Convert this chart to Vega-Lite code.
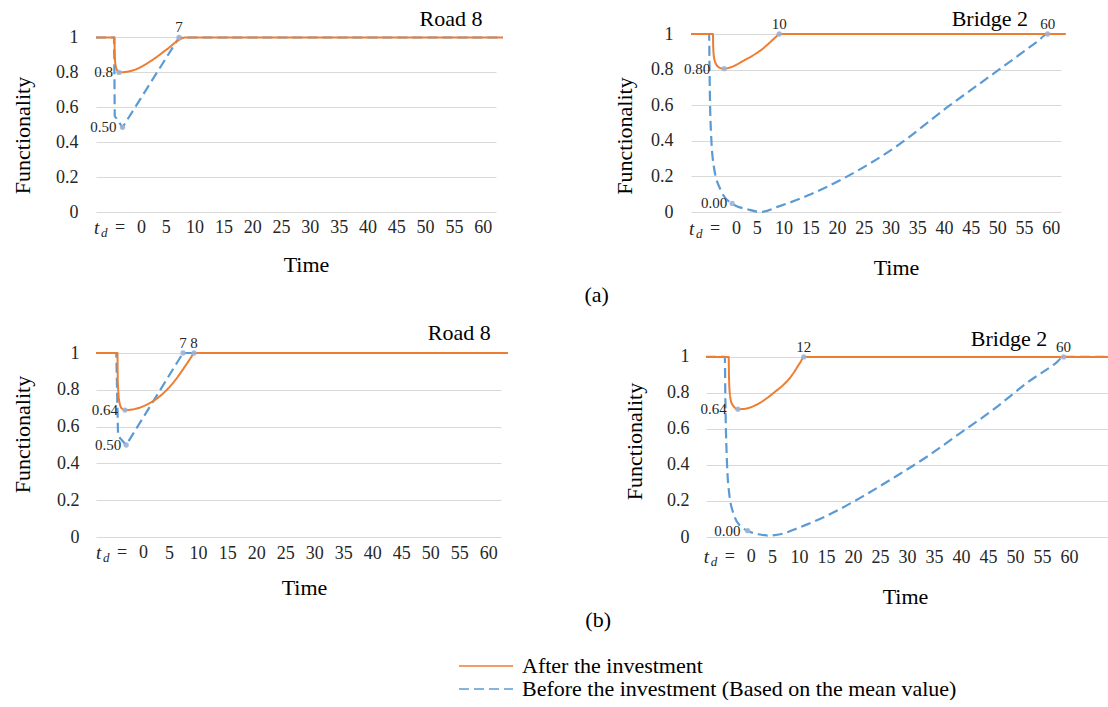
{
"$schema": "https://vega.github.io/schema/vega-lite/v6.json",
"padding": {"left": 10, "top": 7, "right": 0, "bottom": 0},
"background": "white",
"spacing": 16,
"config": {
  "font": "Liberation Serif",
  "view": {"stroke": null},
  "axis": {"labelFont": "Liberation Serif", "labelFontSize": 18, "labelColor": "#262626", "titleFont": "Liberation Serif", "titleFontSize": 22, "titleFontWeight": "normal", "titleColor": "#000000", "domain": false, "ticks": false, "tickSize": 0, "gridColor": "#d9d9d9", "gridWidth": 1, "titleAlign": "center", "titleBaseline": "middle", "labelFlush": false, "labelOverlap": false},
  "axisX": {"grid": false, "labelBaseline": "middle"},
  "axisY": {"grid": true},
  "text": {"font": "Liberation Serif", "color": "#262626"},
  "title": {"font": "Liberation Serif", "fontSize": 22, "fontWeight": "normal", "color": "#000000"}
},
"datasets": {
"lines": [
{"panel":"a_road","series":"After the investment","time":-7.1,"functionality":1},
{"panel":"a_road","series":"After the investment","time":-3.9,"functionality":1},
{"panel":"a_road","series":"After the investment","time":-3.85,"functionality":0.9},
{"panel":"a_road","series":"After the investment","time":-3.7,"functionality":0.84},
{"panel":"a_road","series":"After the investment","time":-3.4,"functionality":0.81},
{"panel":"a_road","series":"After the investment","time":-3.1,"functionality":0.8},
{"panel":"a_road","series":"After the investment","time":-1.5,"functionality":0.805},
{"panel":"a_road","series":"After the investment","time":0,"functionality":0.82},
{"panel":"a_road","series":"After the investment","time":2.4,"functionality":0.865},
{"panel":"a_road","series":"After the investment","time":5.3,"functionality":0.935},
{"panel":"a_road","series":"After the investment","time":7.5,"functionality":0.99},
{"panel":"a_road","series":"After the investment","time":8.3,"functionality":1},
{"panel":"a_road","series":"After the investment","time":63.5,"functionality":1},
{"panel":"a_road","series":"Before the investment (Based on the mean value)","time":-7.1,"functionality":1},
{"panel":"a_road","series":"Before the investment (Based on the mean value)","time":-3.95,"functionality":1},
{"panel":"a_road","series":"Before the investment (Based on the mean value)","time":-3.85,"functionality":0.55},
{"panel":"a_road","series":"Before the investment (Based on the mean value)","time":-2.5,"functionality":0.485},
{"panel":"a_road","series":"Before the investment (Based on the mean value)","time":7.3,"functionality":1},
{"panel":"a_road","series":"Before the investment (Based on the mean value)","time":63.5,"functionality":1},
{"panel":"a_bridge","series":"After the investment","time":-7.3,"functionality":1},
{"panel":"a_bridge","series":"After the investment","time":-3.2,"functionality":1},
{"panel":"a_bridge","series":"After the investment","time":-3.15,"functionality":0.93},
{"panel":"a_bridge","series":"After the investment","time":-3.0,"functionality":0.87},
{"panel":"a_bridge","series":"After the investment","time":-2.6,"functionality":0.83},
{"panel":"a_bridge","series":"After the investment","time":-1.9,"functionality":0.81},
{"panel":"a_bridge","series":"After the investment","time":-1.1,"functionality":0.805},
{"panel":"a_bridge","series":"After the investment","time":0.3,"functionality":0.815},
{"panel":"a_bridge","series":"After the investment","time":2.6,"functionality":0.851},
{"panel":"a_bridge","series":"After the investment","time":5.8,"functionality":0.91},
{"panel":"a_bridge","series":"After the investment","time":8.6,"functionality":0.984},
{"panel":"a_bridge","series":"After the investment","time":9.2,"functionality":1},
{"panel":"a_bridge","series":"After the investment","time":62.8,"functionality":1},
{"panel":"a_bridge","series":"Before the investment (Based on the mean value)","time":-7.3,"functionality":1},
{"panel":"a_bridge","series":"Before the investment (Based on the mean value)","time":-3.9,"functionality":1},
{"panel":"a_bridge","series":"Before the investment (Based on the mean value)","time":-3.85,"functionality":0.85},
{"panel":"a_bridge","series":"Before the investment (Based on the mean value)","time":-3.75,"functionality":0.63},
{"panel":"a_bridge","series":"Before the investment (Based on the mean value)","time":-3.55,"functionality":0.44},
{"panel":"a_bridge","series":"Before the investment (Based on the mean value)","time":-3.0,"functionality":0.25},
{"panel":"a_bridge","series":"Before the investment (Based on the mean value)","time":-1.7,"functionality":0.12},
{"panel":"a_bridge","series":"Before the investment (Based on the mean value)","time":0.2,"functionality":0.05},
{"panel":"a_bridge","series":"Before the investment (Based on the mean value)","time":3.4,"functionality":0.014},
{"panel":"a_bridge","series":"Before the investment (Based on the mean value)","time":5.8,"functionality":0.0},
{"panel":"a_bridge","series":"Before the investment (Based on the mean value)","time":9,"functionality":0.03},
{"panel":"a_bridge","series":"Before the investment (Based on the mean value)","time":15.1,"functionality":0.1},
{"panel":"a_bridge","series":"Before the investment (Based on the mean value)","time":21.3,"functionality":0.19},
{"panel":"a_bridge","series":"Before the investment (Based on the mean value)","time":30.7,"functionality":0.36},
{"panel":"a_bridge","series":"Before the investment (Based on the mean value)","time":40.7,"functionality":0.59},
{"panel":"a_bridge","series":"Before the investment (Based on the mean value)","time":49.4,"functionality":0.78},
{"panel":"a_bridge","series":"Before the investment (Based on the mean value)","time":57.5,"functionality":0.958},
{"panel":"a_bridge","series":"Before the investment (Based on the mean value)","time":59.4,"functionality":1},
{"panel":"a_bridge","series":"Before the investment (Based on the mean value)","time":62.8,"functionality":1},
{"panel":"b_road","series":"After the investment","time":-7.6,"functionality":1},
{"panel":"b_road","series":"After the investment","time":-3.9,"functionality":1},
{"panel":"b_road","series":"After the investment","time":-3.85,"functionality":0.85},
{"panel":"b_road","series":"After the investment","time":-3.6,"functionality":0.74},
{"panel":"b_road","series":"After the investment","time":-3.2,"functionality":0.7},
{"panel":"b_road","series":"After the investment","time":-2.6,"functionality":0.69},
{"panel":"b_road","series":"After the investment","time":-1,"functionality":0.695},
{"panel":"b_road","series":"After the investment","time":0.5,"functionality":0.71},
{"panel":"b_road","series":"After the investment","time":3.6,"functionality":0.77},
{"panel":"b_road","series":"After the investment","time":6,"functionality":0.85},
{"panel":"b_road","series":"After the investment","time":7.8,"functionality":0.93},
{"panel":"b_road","series":"After the investment","time":8.8,"functionality":0.977},
{"panel":"b_road","series":"After the investment","time":9.3,"functionality":1},
{"panel":"b_road","series":"After the investment","time":63.4,"functionality":1},
{"panel":"b_road","series":"Before the investment (Based on the mean value)","time":-7.6,"functionality":1},
{"panel":"b_road","series":"Before the investment (Based on the mean value)","time":-4.1,"functionality":1},
{"panel":"b_road","series":"Before the investment (Based on the mean value)","time":-3.8,"functionality":0.55},
{"panel":"b_road","series":"Before the investment (Based on the mean value)","time":-2.4,"functionality":0.5},
{"panel":"b_road","series":"Before the investment (Based on the mean value)","time":7.4,"functionality":1},
{"panel":"b_road","series":"Before the investment (Based on the mean value)","time":63.4,"functionality":1},
{"panel":"b_bridge","series":"After the investment","time":-7.2,"functionality":1},
{"panel":"b_bridge","series":"After the investment","time":-3,"functionality":1},
{"panel":"b_bridge","series":"After the investment","time":-2.95,"functionality":0.9},
{"panel":"b_bridge","series":"After the investment","time":-2.8,"functionality":0.8},
{"panel":"b_bridge","series":"After the investment","time":-2.4,"functionality":0.74},
{"panel":"b_bridge","series":"After the investment","time":-1.3,"functionality":0.71},
{"panel":"b_bridge","series":"After the investment","time":0,"functionality":0.712},
{"panel":"b_bridge","series":"After the investment","time":1.6,"functionality":0.727},
{"panel":"b_bridge","series":"After the investment","time":5.3,"functionality":0.8},
{"panel":"b_bridge","series":"After the investment","time":8.5,"functionality":0.89},
{"panel":"b_bridge","series":"After the investment","time":10.3,"functionality":0.972},
{"panel":"b_bridge","series":"After the investment","time":10.9,"functionality":1},
{"panel":"b_bridge","series":"After the investment","time":67.4,"functionality":1},
{"panel":"b_bridge","series":"Before the investment (Based on the mean value)","time":-7.2,"functionality":1},
{"panel":"b_bridge","series":"Before the investment (Based on the mean value)","time":-3.7,"functionality":1},
{"panel":"b_bridge","series":"Before the investment (Based on the mean value)","time":-3.65,"functionality":0.85},
{"panel":"b_bridge","series":"Before the investment (Based on the mean value)","time":-3.55,"functionality":0.65},
{"panel":"b_bridge","series":"Before the investment (Based on the mean value)","time":-3.35,"functionality":0.44},
{"panel":"b_bridge","series":"Before the investment (Based on the mean value)","time":-2.9,"functionality":0.24},
{"panel":"b_bridge","series":"Before the investment (Based on the mean value)","time":-2.0,"functionality":0.12},
{"panel":"b_bridge","series":"Before the investment (Based on the mean value)","time":-0.8,"functionality":0.06},
{"panel":"b_bridge","series":"Before the investment (Based on the mean value)","time":0.5,"functionality":0.035},
{"panel":"b_bridge","series":"Before the investment (Based on the mean value)","time":2.5,"functionality":0.015},
{"panel":"b_bridge","series":"Before the investment (Based on the mean value)","time":4.5,"functionality":0.008},
{"panel":"b_bridge","series":"Before the investment (Based on the mean value)","time":7,"functionality":0.018},
{"panel":"b_bridge","series":"Before the investment (Based on the mean value)","time":9,"functionality":0.04},
{"panel":"b_bridge","series":"Before the investment (Based on the mean value)","time":15.3,"functionality":0.12},
{"panel":"b_bridge","series":"Before the investment (Based on the mean value)","time":21.5,"functionality":0.22},
{"panel":"b_bridge","series":"Before the investment (Based on the mean value)","time":27.6,"functionality":0.33},
{"panel":"b_bridge","series":"Before the investment (Based on the mean value)","time":33.9,"functionality":0.45},
{"panel":"b_bridge","series":"Before the investment (Based on the mean value)","time":40,"functionality":0.58},
{"panel":"b_bridge","series":"Before the investment (Based on the mean value)","time":46.1,"functionality":0.71},
{"panel":"b_bridge","series":"Before the investment (Based on the mean value)","time":52.4,"functionality":0.86},
{"panel":"b_bridge","series":"Before the investment (Based on the mean value)","time":57.5,"functionality":0.965},
{"panel":"b_bridge","series":"Before the investment (Based on the mean value)","time":59,"functionality":1},
{"panel":"b_bridge","series":"Before the investment (Based on the mean value)","time":67.4,"functionality":1}
],
"points": [
{"panel":"a_road","series":"After the investment","kind":"min","time":-3.1,"functionality":0.8,"label":"0.8"},
{"panel":"a_road","series":"Before the investment (Based on the mean value)","kind":"min","time":-2.5,"functionality":0.485,"label":"0.50"},
{"panel":"a_road","series":"Before the investment (Based on the mean value)","kind":"top","time":7.3,"functionality":1,"label":"7"},
{"panel":"a_bridge","series":"After the investment","kind":"min","time":-1.1,"functionality":0.805,"label":"0.80"},
{"panel":"a_bridge","series":"After the investment","kind":"top","time":9.2,"functionality":1,"label":"10"},
{"panel":"a_bridge","series":"Before the investment (Based on the mean value)","kind":"min","time":0.4,"functionality":0.048,"label":"0.00"},
{"panel":"a_bridge","series":"Before the investment (Based on the mean value)","kind":"top","time":59.4,"functionality":1,"label":"60"},
{"panel":"b_road","series":"After the investment","kind":"min","time":-2.6,"functionality":0.69,"label":"0.64"},
{"panel":"b_road","series":"Before the investment (Based on the mean value)","kind":"min","time":-2.4,"functionality":0.5,"label":"0.50"},
{"panel":"b_road","series":"Before the investment (Based on the mean value)","kind":"top","time":7.4,"functionality":1,"label":"7"},
{"panel":"b_road","series":"After the investment","kind":"top","time":9.3,"functionality":1,"label":"8"},
{"panel":"b_bridge","series":"After the investment","kind":"min","time":-1.3,"functionality":0.71,"label":"0.64"},
{"panel":"b_bridge","series":"After the investment","kind":"top","time":10.9,"functionality":1,"label":"12"},
{"panel":"b_bridge","series":"Before the investment (Based on the mean value)","kind":"min","time":0.5,"functionality":0.035,"label":"0.00"},
{"panel":"b_bridge","series":"Before the investment (Based on the mean value)","kind":"top","time":59,"functionality":1,"label":"60"}
]
},
"vconcat": [
{
"hconcat": [
{
"width": 400, "height": 178,
"layer": [
{
"encoding": {
  "x": {"field": "time", "type": "quantitative", "scale": {"domain": [-7.1, 62.3], "nice": false, "zero": false}, "axis": {"values": [5,10,15,20,25,30,35,40,45,50,55,60], "tickCount": 40, "labelOverlap": false, "labelFont": "Liberation Serif", "titleFont": "Liberation Serif", "title": "Time", "titleX": 210, "titleY": 52, "labelPadding": 15.5}},
  "y": {"field": "functionality", "type": "quantitative", "scale": {"domain": [0, 1.02], "nice": false, "zero": false}, "axis": {"values": [0,0.2,0.4,0.6,0.8,1], "tickCount": 40, "labelOverlap": false, "labelFont": "Liberation Serif", "titleFont": "Liberation Serif", "format": "~g", "title": "Functionality", "titleX": -74, "titleY": 101, "labelPadding": 18}}
},
"layer": [
{"data": {"name": "lines"}, "transform": [{"filter": "datum.panel === 'a_road' && datum.series !== 'After the investment'"}], "mark": {"type": "line", "strokeWidth": 2.2, "interpolate": "linear", "clip": false},
 "encoding": {"color": {"field": "series", "type": "nominal", "scale": {"domain": ["After the investment", "Before the investment (Based on the mean value)"], "range": ["#ED7D31", "#5B9BD5"]}, "legend": {"title": null, "orient": "none", "legendX": 379, "legendY": 621, "direction": "vertical", "symbolType": "M-5,0H5", "symbolSize": 117, "symbolStrokeWidth": 1.5, "labelFont": "Liberation Serif", "labelFontSize": 22, "labelColor": "#000000", "labelOffset": 25, "rowPadding": 1, "padding": 0, "labelLimit": 700}},
   "strokeDash": {"field": "series", "type": "nominal", "scale": {"domain": ["After the investment", "Before the investment (Based on the mean value)"], "range": [[1,0],[10,5]]}, "legend": {"title": null, "orient": "none", "legendX": 379, "legendY": 621, "direction": "vertical", "symbolType": "M-5,0H5", "symbolSize": 117, "symbolStrokeWidth": 1.5, "labelFont": "Liberation Serif", "labelFontSize": 22, "labelColor": "#000000", "labelOffset": 25, "rowPadding": 1, "padding": 0, "labelLimit": 700}}}},
{"data": {"name": "lines"}, "transform": [{"filter": "datum.panel === 'a_road' && datum.series === 'After the investment'"}], "mark": {"type": "line", "strokeWidth": 2, "interpolate": "monotone", "clip": false},
 "encoding": {"color": {"field": "series", "type": "nominal", "scale": {"domain": ["After the investment", "Before the investment (Based on the mean value)"], "range": ["#ED7D31", "#5B9BD5"]}, "legend": {"title": null, "orient": "none", "legendX": 379, "legendY": 621, "direction": "vertical", "symbolType": "M-5,0H5", "symbolSize": 117, "symbolStrokeWidth": 1.5, "labelFont": "Liberation Serif", "labelFontSize": 22, "labelColor": "#000000", "labelOffset": 25, "rowPadding": 1, "padding": 0, "labelLimit": 700}},
   "strokeDash": {"field": "series", "type": "nominal", "scale": {"domain": ["After the investment", "Before the investment (Based on the mean value)"], "range": [[1,0],[10,5]]}, "legend": {"title": null, "orient": "none", "legendX": 379, "legendY": 621, "direction": "vertical", "symbolType": "M-5,0H5", "symbolSize": 117, "symbolStrokeWidth": 1.5, "labelFont": "Liberation Serif", "labelFontSize": 22, "labelColor": "#000000", "labelOffset": 25, "rowPadding": 1, "padding": 0, "labelLimit": 700}}}},
{"data": {"name": "points"}, "transform": [{"filter": "datum.panel === 'a_road'"}], "mark": {"type": "point", "filled": true, "size": 28, "color": "#9db3d4", "opacity": 0.9}},
{"data": {"name": "points"}, "transform": [{"filter": "datum.panel === 'a_road' && datum.kind === 'min' && datum.series === 'After the investment'"}], "mark": {"type": "text", "align": "right", "baseline": "middle", "dx": -6, "fontSize": 15}, "encoding": {"text": {"field": "label"}}},
{"data": {"name": "points"}, "transform": [{"filter": "datum.panel === 'a_road' && datum.kind === 'min' && datum.series !== 'After the investment'"}], "mark": {"type": "text", "align": "right", "baseline": "middle", "dx": -6, "fontSize": 15}, "encoding": {"text": {"field": "label"}}},
{"data": {"name": "points"}, "transform": [{"filter": "datum.panel === 'a_road' && datum.kind === 'top'"}], "mark": {"type": "text", "align": "center", "baseline": "middle", "dy": -10, "fontSize": 15}, "encoding": {"text": {"field": "label"}}}
]
},
{"data": {"values": [{}]}, "mark": {"type": "text", "text": "Road 8", "fontSize": 22, "color": "#000000", "align": "center", "baseline": "middle", "dy": -18}, "encoding": {"x": {"datum": 54.5, "type": "quantitative"}, "y": {"datum": 1, "type": "quantitative"}}},
{"data": {"values": [{}]}, "mark": {"type": "text", "text": "t", "fontStyle": "italic", "fontSize": 19, "align": "left", "baseline": "middle", "dx": -25, "dy": 15.5}, "encoding": {"x": {"datum": -3.1, "type": "quantitative"}, "y": {"datum": 0, "type": "quantitative"}}},
{"data": {"values": [{}]}, "mark": {"type": "text", "text": "d", "fontStyle": "italic", "fontSize": 13, "align": "left", "baseline": "middle", "dx": -18, "dy": 20.5}, "encoding": {"x": {"datum": -3.1, "type": "quantitative"}, "y": {"datum": 0, "type": "quantitative"}}},
{"data": {"values": [{}]}, "mark": {"type": "text", "text": "=", "fontSize": 18, "align": "left", "baseline": "middle", "dx": -4, "dy": 15.5}, "encoding": {"x": {"datum": -3.1, "type": "quantitative"}, "y": {"datum": 0, "type": "quantitative"}}},
{"data": {"values": [{}]}, "mark": {"type": "text", "text": "0", "fontSize": 18, "align": "left", "baseline": "middle", "dx": 18, "dy": 15.5}, "encoding": {"x": {"datum": -3.1, "type": "quantitative"}, "y": {"datum": 0, "type": "quantitative"}}}
]
},
{
"width": 370, "height": 178,
"layer": [
{
"encoding": {
  "x": {"field": "time", "type": "quantitative", "scale": {"domain": [-7.3, 61.9], "nice": false, "zero": false}, "axis": {"values": [5,10,15,20,25,30,35,40,45,50,55,60], "tickCount": 40, "labelOverlap": false, "labelFont": "Liberation Serif", "titleFont": "Liberation Serif", "title": "Time", "titleX": 205, "titleY": 55.5, "labelPadding": 16.5}},
  "y": {"field": "functionality", "type": "quantitative", "scale": {"domain": [0, 1], "nice": false, "zero": false}, "axis": {"values": [0,0.2,0.4,0.6,0.8,1], "tickCount": 40, "labelOverlap": false, "labelFont": "Liberation Serif", "titleFont": "Liberation Serif", "format": "~g", "title": "Functionality", "titleX": -67, "titleY": 101.5, "labelPadding": 18}}
},
"layer": [
{"data": {"name": "lines"}, "transform": [{"filter": "datum.panel === 'a_bridge' && datum.series !== 'After the investment'"}], "mark": {"type": "line", "strokeWidth": 2.2, "interpolate": "monotone", "clip": false},
 "encoding": {"color": {"field": "series", "type": "nominal", "scale": {"domain": ["After the investment", "Before the investment (Based on the mean value)"], "range": ["#ED7D31", "#5B9BD5"]}, "legend": {"title": null, "orient": "none", "legendX": 379, "legendY": 621, "direction": "vertical", "symbolType": "M-5,0H5", "symbolSize": 117, "symbolStrokeWidth": 1.5, "labelFont": "Liberation Serif", "labelFontSize": 22, "labelColor": "#000000", "labelOffset": 25, "rowPadding": 1, "padding": 0, "labelLimit": 700}},
   "strokeDash": {"field": "series", "type": "nominal", "scale": {"domain": ["After the investment", "Before the investment (Based on the mean value)"], "range": [[1,0],[10,5]]}, "legend": {"title": null, "orient": "none", "legendX": 379, "legendY": 621, "direction": "vertical", "symbolType": "M-5,0H5", "symbolSize": 117, "symbolStrokeWidth": 1.5, "labelFont": "Liberation Serif", "labelFontSize": 22, "labelColor": "#000000", "labelOffset": 25, "rowPadding": 1, "padding": 0, "labelLimit": 700}}}},
{"data": {"name": "lines"}, "transform": [{"filter": "datum.panel === 'a_bridge' && datum.series === 'After the investment'"}], "mark": {"type": "line", "strokeWidth": 2, "interpolate": "monotone", "clip": false},
 "encoding": {"color": {"field": "series", "type": "nominal", "scale": {"domain": ["After the investment", "Before the investment (Based on the mean value)"], "range": ["#ED7D31", "#5B9BD5"]}, "legend": {"title": null, "orient": "none", "legendX": 379, "legendY": 621, "direction": "vertical", "symbolType": "M-5,0H5", "symbolSize": 117, "symbolStrokeWidth": 1.5, "labelFont": "Liberation Serif", "labelFontSize": 22, "labelColor": "#000000", "labelOffset": 25, "rowPadding": 1, "padding": 0, "labelLimit": 700}},
   "strokeDash": {"field": "series", "type": "nominal", "scale": {"domain": ["After the investment", "Before the investment (Based on the mean value)"], "range": [[1,0],[10,5]]}, "legend": {"title": null, "orient": "none", "legendX": 379, "legendY": 621, "direction": "vertical", "symbolType": "M-5,0H5", "symbolSize": 117, "symbolStrokeWidth": 1.5, "labelFont": "Liberation Serif", "labelFontSize": 22, "labelColor": "#000000", "labelOffset": 25, "rowPadding": 1, "padding": 0, "labelLimit": 700}}}},
{"data": {"name": "points"}, "transform": [{"filter": "datum.panel === 'a_bridge'"}], "mark": {"type": "point", "filled": true, "size": 28, "color": "#9db3d4", "opacity": 0.9}},
{"data": {"name": "points"}, "transform": [{"filter": "datum.panel === 'a_bridge' && datum.kind === 'min' && datum.series === 'After the investment'"}], "mark": {"type": "text", "align": "right", "baseline": "middle", "dx": -14, "fontSize": 15}, "encoding": {"text": {"field": "label"}}},
{"data": {"name": "points"}, "transform": [{"filter": "datum.panel === 'a_bridge' && datum.kind === 'min' && datum.series !== 'After the investment'"}], "mark": {"type": "text", "align": "right", "baseline": "middle", "dx": -5, "fontSize": 15}, "encoding": {"text": {"field": "label"}}},
{"data": {"name": "points"}, "transform": [{"filter": "datum.panel === 'a_bridge' && datum.kind === 'top'"}], "mark": {"type": "text", "align": "center", "baseline": "middle", "dy": -10, "fontSize": 15}, "encoding": {"text": {"field": "label"}}}
]
},
{"data": {"values": [{}]}, "mark": {"type": "text", "text": "Bridge 2", "fontSize": 22, "color": "#000000", "align": "center", "baseline": "middle", "dy": -15.5}, "encoding": {"x": {"datum": 48.6, "type": "quantitative"}, "y": {"datum": 1, "type": "quantitative"}}},
{"data": {"values": [{}]}, "mark": {"type": "text", "text": "t", "fontStyle": "italic", "fontSize": 19, "align": "left", "baseline": "middle", "dx": -25, "dy": 16.5}, "encoding": {"x": {"datum": -3, "type": "quantitative"}, "y": {"datum": 0, "type": "quantitative"}}},
{"data": {"values": [{}]}, "mark": {"type": "text", "text": "d", "fontStyle": "italic", "fontSize": 13, "align": "left", "baseline": "middle", "dx": -18, "dy": 21.5}, "encoding": {"x": {"datum": -3, "type": "quantitative"}, "y": {"datum": 0, "type": "quantitative"}}},
{"data": {"values": [{}]}, "mark": {"type": "text", "text": "=", "fontSize": 18, "align": "left", "baseline": "middle", "dx": -4, "dy": 16.5}, "encoding": {"x": {"datum": -3, "type": "quantitative"}, "y": {"datum": 0, "type": "quantitative"}}},
{"data": {"values": [{}]}, "mark": {"type": "text", "text": "0", "fontSize": 18, "align": "left", "baseline": "middle", "dx": 18, "dy": 16.5}, "encoding": {"x": {"datum": -3, "type": "quantitative"}, "y": {"datum": 0, "type": "quantitative"}}}
]
}
],
"spacing": 195,
"bounds": "flush",
"title": {"text": "(a)", "orient": "bottom", "anchor": "middle", "frame": "bounds", "offset": 6, "dx": 56}
},
{
"hconcat": [
{
"width": 405, "height": 184,
"layer": [
{
"encoding": {
  "x": {"field": "time", "type": "quantitative", "scale": {"domain": [-7.6, 62.2], "nice": false, "zero": false}, "axis": {"values": [5,10,15,20,25,30,35,40,45,50,55,60], "tickCount": 40, "labelOverlap": false, "labelFont": "Liberation Serif", "titleFont": "Liberation Serif", "title": "Time", "titleX": 208, "titleY": 50, "labelPadding": 16}},
  "y": {"field": "functionality", "type": "quantitative", "scale": {"domain": [0, 1], "nice": false, "zero": false}, "axis": {"values": [0,0.2,0.4,0.6,0.8,1], "tickCount": 40, "labelOverlap": false, "labelFont": "Liberation Serif", "titleFont": "Liberation Serif", "format": "~g", "title": "Functionality", "titleX": -74, "titleY": 81, "labelPadding": 17}}
},
"layer": [
{"data": {"name": "lines"}, "transform": [{"filter": "datum.panel === 'b_road' && datum.series !== 'After the investment'"}], "mark": {"type": "line", "strokeWidth": 2.2, "interpolate": "linear", "clip": false},
 "encoding": {"color": {"field": "series", "type": "nominal", "scale": {"domain": ["After the investment", "Before the investment (Based on the mean value)"], "range": ["#ED7D31", "#5B9BD5"]}, "legend": {"title": null, "orient": "none", "legendX": 379, "legendY": 621, "direction": "vertical", "symbolType": "M-5,0H5", "symbolSize": 117, "symbolStrokeWidth": 1.5, "labelFont": "Liberation Serif", "labelFontSize": 22, "labelColor": "#000000", "labelOffset": 25, "rowPadding": 1, "padding": 0, "labelLimit": 700}},
   "strokeDash": {"field": "series", "type": "nominal", "scale": {"domain": ["After the investment", "Before the investment (Based on the mean value)"], "range": [[1,0],[10,5]]}, "legend": {"title": null, "orient": "none", "legendX": 379, "legendY": 621, "direction": "vertical", "symbolType": "M-5,0H5", "symbolSize": 117, "symbolStrokeWidth": 1.5, "labelFont": "Liberation Serif", "labelFontSize": 22, "labelColor": "#000000", "labelOffset": 25, "rowPadding": 1, "padding": 0, "labelLimit": 700}}}},
{"data": {"name": "lines"}, "transform": [{"filter": "datum.panel === 'b_road' && datum.series === 'After the investment'"}], "mark": {"type": "line", "strokeWidth": 2, "interpolate": "monotone", "clip": false},
 "encoding": {"color": {"field": "series", "type": "nominal", "scale": {"domain": ["After the investment", "Before the investment (Based on the mean value)"], "range": ["#ED7D31", "#5B9BD5"]}, "legend": {"title": null, "orient": "none", "legendX": 379, "legendY": 621, "direction": "vertical", "symbolType": "M-5,0H5", "symbolSize": 117, "symbolStrokeWidth": 1.5, "labelFont": "Liberation Serif", "labelFontSize": 22, "labelColor": "#000000", "labelOffset": 25, "rowPadding": 1, "padding": 0, "labelLimit": 700}},
   "strokeDash": {"field": "series", "type": "nominal", "scale": {"domain": ["After the investment", "Before the investment (Based on the mean value)"], "range": [[1,0],[10,5]]}, "legend": {"title": null, "orient": "none", "legendX": 379, "legendY": 621, "direction": "vertical", "symbolType": "M-5,0H5", "symbolSize": 117, "symbolStrokeWidth": 1.5, "labelFont": "Liberation Serif", "labelFontSize": 22, "labelColor": "#000000", "labelOffset": 25, "rowPadding": 1, "padding": 0, "labelLimit": 700}}}},
{"data": {"name": "points"}, "transform": [{"filter": "datum.panel === 'b_road'"}], "mark": {"type": "point", "filled": true, "size": 28, "color": "#9db3d4", "opacity": 0.9}},
{"data": {"name": "points"}, "transform": [{"filter": "datum.panel === 'b_road' && datum.kind === 'min' && datum.series === 'After the investment'"}], "mark": {"type": "text", "align": "right", "baseline": "middle", "dx": -7, "fontSize": 15}, "encoding": {"text": {"field": "label"}}},
{"data": {"name": "points"}, "transform": [{"filter": "datum.panel === 'b_road' && datum.kind === 'min' && datum.series !== 'After the investment'"}], "mark": {"type": "text", "align": "right", "baseline": "middle", "dx": -5, "fontSize": 15}, "encoding": {"text": {"field": "label"}}},
{"data": {"name": "points"}, "transform": [{"filter": "datum.panel === 'b_road' && datum.kind === 'top'"}], "mark": {"type": "text", "align": "center", "baseline": "middle", "dy": -10, "fontSize": 15}, "encoding": {"text": {"field": "label"}}}
]
},
{"data": {"values": [{}]}, "mark": {"type": "text", "text": "Road 8", "fontSize": 22, "color": "#000000", "align": "center", "baseline": "middle", "dy": -20}, "encoding": {"x": {"datum": 55, "type": "quantitative"}, "y": {"datum": 1, "type": "quantitative"}}},
{"data": {"values": [{}]}, "mark": {"type": "text", "text": "t", "fontStyle": "italic", "fontSize": 19, "align": "left", "baseline": "middle", "dx": -25, "dy": 16}, "encoding": {"x": {"datum": -3.3, "type": "quantitative"}, "y": {"datum": 0, "type": "quantitative"}}},
{"data": {"values": [{}]}, "mark": {"type": "text", "text": "d", "fontStyle": "italic", "fontSize": 13, "align": "left", "baseline": "middle", "dx": -18, "dy": 21}, "encoding": {"x": {"datum": -3.3, "type": "quantitative"}, "y": {"datum": 0, "type": "quantitative"}}},
{"data": {"values": [{}]}, "mark": {"type": "text", "text": "=", "fontSize": 18, "align": "left", "baseline": "middle", "dx": -4, "dy": 16}, "encoding": {"x": {"datum": -3.3, "type": "quantitative"}, "y": {"datum": 0, "type": "quantitative"}}},
{"data": {"values": [{}]}, "mark": {"type": "text", "text": "0", "fontSize": 18, "align": "left", "baseline": "middle", "dx": 18, "dy": 16}, "encoding": {"x": {"datum": -3.3, "type": "quantitative"}, "y": {"datum": 0, "type": "quantitative"}}}
]
},
{
"width": 403, "height": 184,
"layer": [
{
"encoding": {
  "x": {"field": "time", "type": "quantitative", "scale": {"domain": [-7.2, 67.4], "nice": false, "zero": false}, "axis": {"values": [5,10,15,20,25,30,35,40,45,50,55,60], "tickCount": 40, "labelOverlap": false, "labelFont": "Liberation Serif", "titleFont": "Liberation Serif", "title": "Time", "titleX": 199, "titleY": 59, "labelPadding": 20}},
  "y": {"field": "functionality", "type": "quantitative", "scale": {"domain": [0, 1.022], "nice": false, "zero": false}, "axis": {"values": [0,0.2,0.4,0.6,0.8,1], "tickCount": 40, "labelOverlap": false, "labelFont": "Liberation Serif", "titleFont": "Liberation Serif", "format": "~g", "title": "Functionality", "titleX": -72, "titleY": 88, "labelPadding": 17}}
},
"layer": [
{"data": {"name": "lines"}, "transform": [{"filter": "datum.panel === 'b_bridge' && datum.series !== 'After the investment'"}], "mark": {"type": "line", "strokeWidth": 2.2, "interpolate": "monotone", "clip": false},
 "encoding": {"color": {"field": "series", "type": "nominal", "scale": {"domain": ["After the investment", "Before the investment (Based on the mean value)"], "range": ["#ED7D31", "#5B9BD5"]}, "legend": {"title": null, "orient": "none", "legendX": 379, "legendY": 621, "direction": "vertical", "symbolType": "M-5,0H5", "symbolSize": 117, "symbolStrokeWidth": 1.5, "labelFont": "Liberation Serif", "labelFontSize": 22, "labelColor": "#000000", "labelOffset": 25, "rowPadding": 1, "padding": 0, "labelLimit": 700}},
   "strokeDash": {"field": "series", "type": "nominal", "scale": {"domain": ["After the investment", "Before the investment (Based on the mean value)"], "range": [[1,0],[10,5]]}, "legend": {"title": null, "orient": "none", "legendX": 379, "legendY": 621, "direction": "vertical", "symbolType": "M-5,0H5", "symbolSize": 117, "symbolStrokeWidth": 1.5, "labelFont": "Liberation Serif", "labelFontSize": 22, "labelColor": "#000000", "labelOffset": 25, "rowPadding": 1, "padding": 0, "labelLimit": 700}}}},
{"data": {"name": "lines"}, "transform": [{"filter": "datum.panel === 'b_bridge' && datum.series === 'After the investment'"}], "mark": {"type": "line", "strokeWidth": 2, "interpolate": "monotone", "clip": false},
 "encoding": {"color": {"field": "series", "type": "nominal", "scale": {"domain": ["After the investment", "Before the investment (Based on the mean value)"], "range": ["#ED7D31", "#5B9BD5"]}, "legend": {"title": null, "orient": "none", "legendX": 379, "legendY": 621, "direction": "vertical", "symbolType": "M-5,0H5", "symbolSize": 117, "symbolStrokeWidth": 1.5, "labelFont": "Liberation Serif", "labelFontSize": 22, "labelColor": "#000000", "labelOffset": 25, "rowPadding": 1, "padding": 0, "labelLimit": 700}},
   "strokeDash": {"field": "series", "type": "nominal", "scale": {"domain": ["After the investment", "Before the investment (Based on the mean value)"], "range": [[1,0],[10,5]]}, "legend": {"title": null, "orient": "none", "legendX": 379, "legendY": 621, "direction": "vertical", "symbolType": "M-5,0H5", "symbolSize": 117, "symbolStrokeWidth": 1.5, "labelFont": "Liberation Serif", "labelFontSize": 22, "labelColor": "#000000", "labelOffset": 25, "rowPadding": 1, "padding": 0, "labelLimit": 700}}}},
{"data": {"name": "points"}, "transform": [{"filter": "datum.panel === 'b_bridge'"}], "mark": {"type": "point", "filled": true, "size": 28, "color": "#9db3d4", "opacity": 0.9}},
{"data": {"name": "points"}, "transform": [{"filter": "datum.panel === 'b_bridge' && datum.kind === 'min' && datum.series === 'After the investment'"}], "mark": {"type": "text", "align": "right", "baseline": "middle", "dx": -11, "fontSize": 15}, "encoding": {"text": {"field": "label"}}},
{"data": {"name": "points"}, "transform": [{"filter": "datum.panel === 'b_bridge' && datum.kind === 'min' && datum.series !== 'After the investment'"}], "mark": {"type": "text", "align": "right", "baseline": "middle", "dx": -7, "fontSize": 15}, "encoding": {"text": {"field": "label"}}},
{"data": {"name": "points"}, "transform": [{"filter": "datum.panel === 'b_bridge' && datum.kind === 'top'"}], "mark": {"type": "text", "align": "center", "baseline": "middle", "dy": -10, "fontSize": 15}, "encoding": {"text": {"field": "label"}}}
]
},
{"data": {"values": [{}]}, "mark": {"type": "text", "text": "Bridge 2", "fontSize": 22, "color": "#000000", "align": "center", "baseline": "middle", "dy": -18}, "encoding": {"x": {"datum": 48.9, "type": "quantitative"}, "y": {"datum": 1, "type": "quantitative"}}},
{"data": {"values": [{}]}, "mark": {"type": "text", "text": "t", "fontStyle": "italic", "fontSize": 19, "align": "left", "baseline": "middle", "dx": -25, "dy": 20}, "encoding": {"x": {"datum": -3, "type": "quantitative"}, "y": {"datum": 0, "type": "quantitative"}}},
{"data": {"values": [{}]}, "mark": {"type": "text", "text": "d", "fontStyle": "italic", "fontSize": 13, "align": "left", "baseline": "middle", "dx": -18, "dy": 25}, "encoding": {"x": {"datum": -3, "type": "quantitative"}, "y": {"datum": 0, "type": "quantitative"}}},
{"data": {"values": [{}]}, "mark": {"type": "text", "text": "=", "fontSize": 18, "align": "left", "baseline": "middle", "dx": -4, "dy": 20}, "encoding": {"x": {"datum": -3, "type": "quantitative"}, "y": {"datum": 0, "type": "quantitative"}}},
{"data": {"values": [{}]}, "mark": {"type": "text", "text": "0", "fontSize": 18, "align": "left", "baseline": "middle", "dx": 18, "dy": 20}, "encoding": {"x": {"datum": -3, "type": "quantitative"}, "y": {"datum": 0, "type": "quantitative"}}}
]
}
],
"spacing": 205,
"bounds": "flush",
"title": {"text": "(b)", "orient": "bottom", "anchor": "middle", "frame": "bounds", "offset": 3, "dx": 36}
}
]
}
